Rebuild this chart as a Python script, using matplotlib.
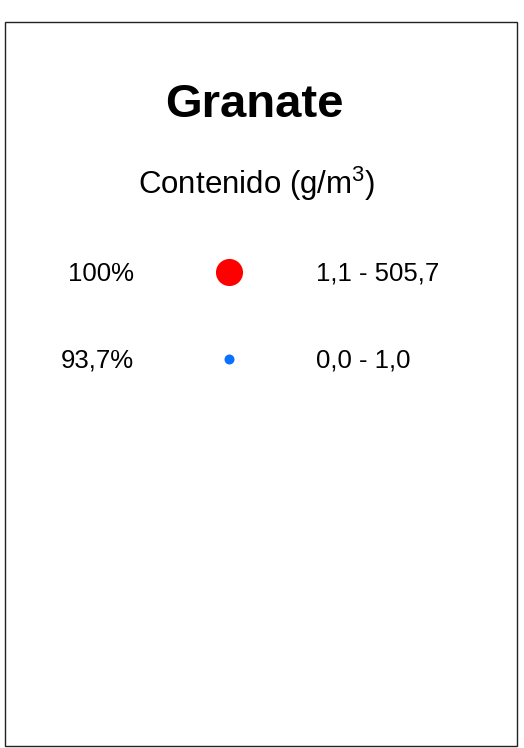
import matplotlib

matplotlib.use("Agg")
import matplotlib.pyplot as plt
from matplotlib.patches import Rectangle

plt.rcParams["font.family"] = ["Liberation Sans", "DejaVu Sans"]
plt.rcParams["mathtext.fontset"] = "custom"
plt.rcParams["mathtext.rm"] = "Liberation Sans"
plt.rcParams["mathtext.it"] = "Liberation Sans"

TITLE = "Granate"
SUBTITLE = r"Contenido (g/m$^{3}$)"
PERCENT_LABELS = ["100%", "93,7%"]
RANGE_LABELS = ["1,1 - 505,7", "0,0 - 1,0"]

# styles
DOT_COLORS = ["#ff0000", "#0a70ff"]
DOT_SIZES = [19.5, 7.2]  # marker size in points

W, H = 524, 748
fig = plt.figure(figsize=(W / 100, H / 100), dpi=100)
ax = fig.add_axes([0, 0, 1, 1])
ax.set_xlim(0, W)
ax.set_ylim(H, 0)
ax.axis("off")

ax.add_patch(Rectangle((4.5, 21.5), 512.5, 724, fill=False, edgecolor="#222222", linewidth=1.0))

ax.text(254, 105, TITLE, ha="center", va="center", fontsize=34, fontweight="bold")
ax.text(257, 184, SUBTITLE, ha="center", va="center", fontsize=22.5)

row_y0, row_step = 272, 87
for i, (pct, rng) in enumerate(zip(PERCENT_LABELS, RANGE_LABELS)):
    y = row_y0 + i * row_step
    ax.text(134, y + 1.5, pct, ha="right", va="center", fontsize=18.5)
    ax.plot([229], [y], "o", color=DOT_COLORS[i], markersize=DOT_SIZES[i], markeredgewidth=0)
    ax.text(316, y + 1.5, rng, ha="left", va="center", fontsize=18.5)

fig.savefig("out.png", dpi=100)
